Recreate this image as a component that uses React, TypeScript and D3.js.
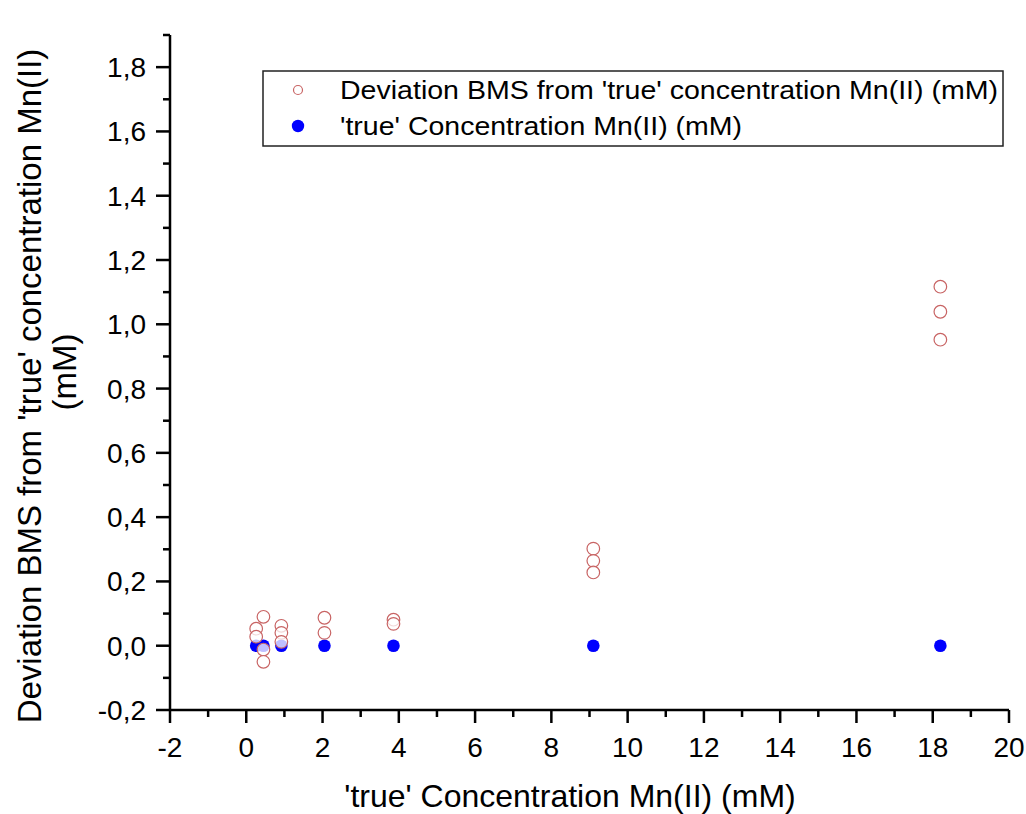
import React from "react";
import * as d3 from "d3";

const trueConc = [0.26, 0.45, 0.92, 2.05, 3.86, 9.1, 18.2];
const trueZero = [0, 0, 0, 0, 0, 0, 0];

const devX = [0.26, 0.26, 0.45, 0.45, 0.45, 0.92, 0.92, 0.92, 2.05, 2.05, 3.86, 3.86, 9.1, 9.1, 9.1, 18.2, 18.2, 18.2];
const devY = [0.053, 0.028, 0.09, -0.012, -0.05, 0.062, 0.04, 0.012, 0.087, 0.04, 0.081, 0.068, 0.302, 0.264, 0.228, 1.117, 1.039, 0.952];

const xMajor = [-2, 0, 2, 4, 6, 8, 10, 12, 14, 16, 18, 20];
const xMinor = [-1, 1, 3, 5, 7, 9, 11, 13, 15, 17, 19];
const yMajor = [-0.2, 0, 0.2, 0.4, 0.6, 0.8, 1.0, 1.2, 1.4, 1.6, 1.8];
const yMinor = [-0.1, 0.1, 0.3, 0.5, 0.7, 0.9, 1.1, 1.3, 1.5, 1.7, 1.9];

const legendLabels = [
  "Deviation BMS from 'true' concentration Mn(II) (mM)",
  "'true' Concentration Mn(II) (mM)",
];
const xTitle = "'true' Concentration Mn(II) (mM)";
const yTitle1 = "Deviation BMS from 'true' concentration Mn(II)";
const yTitle2 = "(mM)";

const FONT = "Liberation Sans, Arial, sans-serif";

export default function App() {
  const W = 1026, H = 814;
  const x = d3.scaleLinear().domain([-2, 20]).range([170, 1009]);
  const y = d3.scaleLinear().domain([-0.2, 1.9]).range([710, 35]);
  const fmt = (v: number) => d3.format(".1f")(v).replace(".", ",").replace("−", "-");
  const red = "#c86464";

  return (
    <svg width={W} height={H} style={{ position: "absolute", left: 0, top: 0, background: "#fff" }}>
      <rect width={W} height={H} fill="#fff" />
      {trueConc.map((v, i) => (
        <circle key={"b" + i} cx={x(v)} cy={y(trueZero[i])} r={6.3} fill="#0000ff" />
      ))}
      {devX.map((v, i) => (
        <circle key={"r" + i} cx={x(v)} cy={y(devY[i])} r={6.3} fill="rgba(255,255,255,0.75)" stroke={red} strokeWidth={1.2} />
      ))}
      <line x1={x(-2)} x2={x(20)} y1={710} y2={710} stroke="#000" strokeWidth={2.5} />
      <line x1={170} x2={170} y1={y(1.9)} y2={711} stroke="#000" strokeWidth={2.5} />
      {xMajor.map((v) => (
        <g key={"xm" + v}>
          <line x1={x(v)} x2={x(v)} y1={710} y2={723} stroke="#000" strokeWidth={2.5} />
          <text x={x(v)} y={757} textAnchor="middle" fontFamily={FONT} fontSize={28} fill="#000">
            {v < 0 ? "-" + Math.abs(v) : String(v)}
          </text>
        </g>
      ))}
      {xMinor.map((v) => (
        <line key={"xn" + v} x1={x(v)} x2={x(v)} y1={710} y2={717} stroke="#000" strokeWidth={2.5} />
      ))}
      {yMajor.map((v) => (
        <g key={"ym" + v}>
          <line x1={156} x2={170} y1={y(v)} y2={y(v)} stroke="#000" strokeWidth={2.5} />
          <text x={146} y={y(v) + 10} textAnchor="end" fontFamily={FONT} fontSize={28} fill="#000">
            {fmt(v)}
          </text>
        </g>
      ))}
      {yMinor.map((v) => (
        <line key={"yn" + v} x1={163} x2={170} y1={y(v)} y2={y(v)} stroke="#000" strokeWidth={2.5} />
      ))}
      <text x={570} y={807} textAnchor="middle" fontFamily={FONT} fontSize={32} fill="#000">
        {xTitle}
      </text>
      <text transform="translate(41,386) rotate(-90)" textAnchor="middle" fontFamily={FONT} fontSize={33} fill="#000">
        {yTitle1}
      </text>
      <text transform="translate(76,372) rotate(-90)" textAnchor="middle" fontFamily={FONT} fontSize={33} fill="#000">
        {yTitle2}
      </text>
      <rect x={263} y={71} width={740} height={75} fill="#fff" stroke="#222" strokeWidth={1.5} />
      <circle cx={298} cy={90} r={4.5} fill="#fff" stroke={red} strokeWidth={1.2} />
      <circle cx={298} cy={126} r={6.2} fill="#0000ff" />
      <text x={340} y={99} fontFamily={FONT} fontSize={26} fill="#000" textLength={658} lengthAdjust="spacingAndGlyphs">
        {legendLabels[0]}
      </text>
      <text x={340} y={135} fontFamily={FONT} fontSize={26} fill="#000" textLength={402} lengthAdjust="spacingAndGlyphs">
        {legendLabels[1]}
      </text>
    </svg>
  );
}
